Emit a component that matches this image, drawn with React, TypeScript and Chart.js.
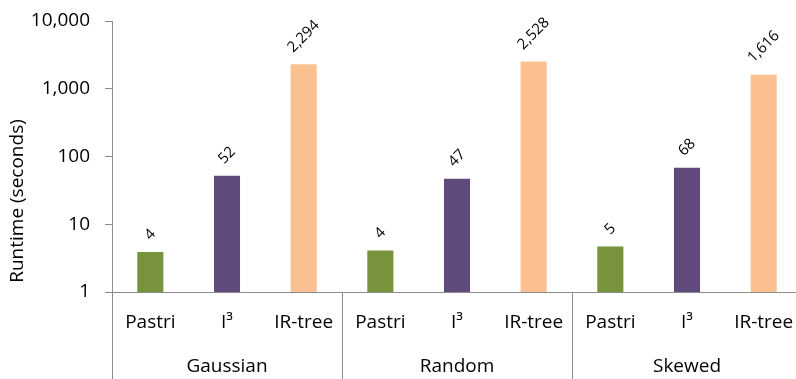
import React, { useEffect, useRef } from "react";
import { Chart, registerables } from "chart.js";

Chart.register(...registerables);

const groups = ["Gaussian", "Random", "Skewed"];
const methods = ["Pastri", "I³", "IR-tree"];
const gaussianValues = [3.9, 52, 2294];
const randomValues = [4.1, 47, 2528];
const skewedValues = [4.7, 68, 1616];
const yTickValues = [1, 10, 100, 1000, 10000];
const methodColors = ["#77933C", "#604A7B", "#FAC090"];

const FONT = "'Open Sans', sans-serif";
const AXIS_GRAY = "#8C8C8C";
const TEXT = "#000000";

export default function App() {
  const ref = useRef<HTMLCanvasElement | null>(null);

  useEffect(() => {
    document.body.style.margin = "0";
    const canvas = ref.current;
    if (!canvas) return;
    const labels: string[] = [];
    const values: number[] = [];
    const colors: string[] = [];
    const allValues = [gaussianValues, randomValues, skewedValues];
    groups.forEach((g, gi) => {
      methods.forEach((m, mi) => {
        labels.push(m);
        values.push(allValues[gi][mi]);
        colors.push(methodColors[mi]);
      });
    });

    const fmt = (v: number) => Math.round(v).toLocaleString("en-US");

    const overlay = {
      id: "overlay",
      afterDraw(chart: any) {
        const ctx = chart.ctx as CanvasRenderingContext2D;
        const area = chart.chartArea;
        const x = chart.scales.x;
        const H = chart.height;
        ctx.save();
        // y axis extension
        ctx.strokeStyle = AXIS_GRAY;
        ctx.lineWidth = 1;
        ctx.beginPath();
        ctx.moveTo(Math.round(area.left) + 0.5, area.bottom);
        ctx.lineTo(Math.round(area.left) + 0.5, H);
        // separators
        for (let gi = 1; gi <= groups.length; gi++) {
          const idx = gi * methods.length;
          const sx = (x.getPixelForValue(idx - 1) + x.getPixelForValue(idx)) / 2;
          const px = gi === groups.length ? x.getPixelForValue(idx - 1) + (x.getPixelForValue(1) - x.getPixelForValue(0)) / 2 : sx;
          ctx.moveTo(Math.round(px) + 0.5, area.bottom);
          ctx.lineTo(Math.round(px) + 0.5, H);
        }
        ctx.stroke();

        // category labels
        ctx.fillStyle = TEXT;
        ctx.font = `19px ${FONT}`;
        ctx.textAlign = "center";
        ctx.textBaseline = "middle";
        labels.forEach((l, i) => {
          ctx.fillText(l, x.getPixelForValue(i), 323);
        });
        // group labels
        groups.forEach((g, gi) => {
          const a = x.getPixelForValue(gi * 3);
          const b = x.getPixelForValue(gi * 3 + 2);
          ctx.fillText(g, (a + b) / 2, 367);
        });

        // y title
        ctx.save();
        ctx.translate(18, 201);
        ctx.rotate(-Math.PI / 2);
        ctx.fillText("Runtime (seconds)", 0, 0);
        ctx.restore();

        // data labels
        const meta = chart.getDatasetMeta(0);
        ctx.font = `15px ${FONT}`;
        meta.data.forEach((bar: any, i: number) => {
          const text = fmt(values[i]);
          const w = ctx.measureText(text).width;
          const h = 15;
          const bb = (w + h) / Math.SQRT2;
          const cy = bar.y - 9 - bb / 2;
          ctx.save();
          ctx.translate(bar.x, cy);
          ctx.rotate(-Math.PI / 4);
          ctx.textAlign = "center";
          ctx.textBaseline = "middle";
          ctx.fillText(text, 0, 0);
          ctx.restore();
        });
        ctx.restore();
      },
    };

    const chart = new Chart(canvas, {
      type: "bar",
      data: {
        labels,
        datasets: [
          {
            data: values,
            backgroundColor: colors,
            borderWidth: 0,
            barPercentage: 0.34,
            categoryPercentage: 1,
          },
        ],
      },
      options: {
        responsive: false,
        animation: false,
        layout: { padding: { top: 21, right: 8, left: 0, bottom: 0 } },
        plugins: { legend: { display: false }, tooltip: { enabled: false } },
        scales: {
          x: {
            type: "category",
            grid: { display: false, drawTicks: false },
            border: { display: true, color: AXIS_GRAY, width: 1 },
            ticks: { display: false },
            afterFit: (s: any) => {
              s.height = 87;
              s.paddingLeft = 0;
              s.paddingRight = 0;
            },
          },
          y: {
            type: "logarithmic",
            min: 1,
            max: 10000,
            afterBuildTicks: (s: any) => {
              s.ticks = yTickValues.map((v) => ({ value: v }));
            },
            afterFit: (s: any) => {
              s.width = 112;
              s.paddingTop = 0;
              s.paddingBottom = 0;
            },
            ticks: {
              callback: (v: any) => Number(v).toLocaleString("en-US"),
              font: { family: FONT, size: 19 },
              color: TEXT,
              padding: 15,
            },
            grid: {
              drawOnChartArea: false,
              drawTicks: true,
              tickLength: 7,
              color: AXIS_GRAY,
            },
            border: { display: true, color: AXIS_GRAY, width: 1 },
            title: { display: false },
          },
        },
      },
      plugins: [overlay],
    });
    return () => chart.destroy();
  }, []);

  return (
    <div style={{ width: 796, height: 379, overflow: "hidden" }}>
      <canvas ref={ref} width={810} height={379} style={{ display: "block" }} />
    </div>
  );
}
